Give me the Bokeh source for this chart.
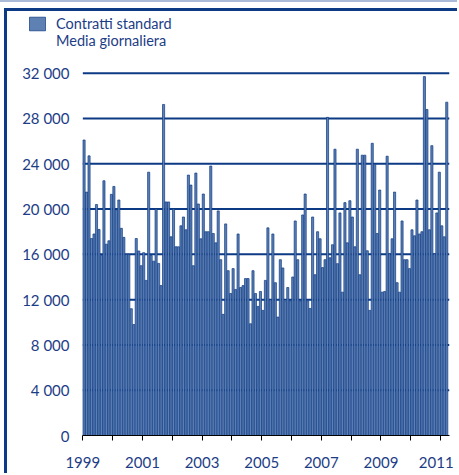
from bokeh.plotting import figure
from bokeh.models import FixedTicker, Range1d, Legend, LegendItem
from bokeh.layouts import column
from bokeh.embed import file_html
from bokeh.resources import INLINE

# ---- data (Contratti standard, media giornaliera, monthly) ----
v1999 = [26100, 21500, 24700, 17400, 17800, 20400, 18200, 15900, 22500, 16900, 17200, 21300]
v2000 = [22000, 19900, 20800, 18300, 17500, 16000, 16000, 11200, 9800, 17400, 16300, 15000]
v2001 = [16150, 13700, 23260, 15900, 15400, 20000, 15200, 13240, 29240, 20630, 20630, 17550]
v2002 = [20000, 16670, 16670, 18520, 19300, 18170, 23000, 22120, 15000, 23180, 20450, 17375]
v2003 = [21330, 18000, 18000, 23800, 17840, 17020, 19840, 15530, 10700, 18690, 14560, 12540]
v2004 = [14740, 12900, 17800, 13070, 13240, 13860, 13860, 9870, 14560, 12540, 11400, 12720]
v2005 = [11050, 13700, 18340, 12000, 17800, 13500, 10460, 15530, 14800, 11840, 13070, 11900]
v2006 = [14000, 18950, 15530, 11900, 19480, 21330, 11900, 11220, 19300, 14200, 18000, 17375]
v2007 = [14830, 15530, 28100, 15700, 16850, 25290, 15180, 19660, 12660, 20570, 17020, 20740]
v2008 = [19300, 16670, 25290, 14200, 24760, 24760, 16320, 11050, 25810, 23970, 17840, 21680]
v2009 = [12660, 12720, 24670, 16060, 17375, 21500, 13500, 12660, 18950, 15530, 15530, 14740]
v2010 = [18170, 17640, 20800, 17800, 18000, 31700, 28800, 18170, 25600, 16060, 19660, 23260]
v2011 = [18520, 17550, 29440]

year_labels = ["1999", "", "2001", "", "2003", "", "2005", "", "2007", "", "2009", "",
               "2011\u00a0"]
y_ticks = [0, 4000, 8000, 12000, 16000, 20000, 24000, 28000, 32000]
y_tick_labels = ["0", "4 000", "8 000", "12 000", "16 000", "20 000", "24 000", "28 000", "32 000"]
legend_lines = ["Contratti standard", "Media giornaliera"]

values = (v1999 + v2000 + v2001 + v2002 + v2003 + v2004 + v2005 + v2006
          + v2007 + v2008 + v2009 + v2010 + v2011)
months = list(range(len(values)))
year_ticks = [12 * k - 0.5 for k in range(len(year_labels))]

NAVY = "#0c3a84"
TEXT = "#1c3d86"
FILL = "#5f80b3"
LIGHT = "#a9bbd8"
FONT = "Lato"

X0, X1 = -0.5, 147.1
p = figure(width=450, height=462, output_backend="svg", toolbar_location=None,
           x_range=Range1d(-26.8, X1), y_range=Range1d(0, 37451),
           min_border_left=10, min_border_right=8, min_border_top=0, min_border_bottom=36)
p.outline_line_color = None
p.xgrid.grid_line_color = None
p.ygrid.grid_line_color = None

# horizontal grid lines, limited to the data area
grid_y = y_ticks[1:]
p.segment(x0=[X0] * len(grid_y), x1=[X1] * len(grid_y), y0=grid_y, y1=grid_y,
          line_color=NAVY, line_width=2, level="underlay")

bars = p.vbar(x=months, top=values, width=0.85, fill_color=FILL,
              line_color=NAVY, line_width=0.7)
dummy = p.vbar(x=[0], top=[0], width=0.1, fill_alpha=0, line_alpha=0)

xa = p.xaxis[0]
xa.bounds = (X0, X1)
xa.ticker = FixedTicker(ticks=year_ticks)
xa.major_label_overrides = {t: l for t, l in zip(year_ticks, year_labels)}
xa.axis_line_color = "black"
xa.axis_line_width = 1
xa.major_tick_line_color = "black"
xa.major_tick_out = 5
xa.major_tick_in = 0
xa.minor_tick_line_color = None
xa.major_label_standoff = 12
xa.major_label_text_font = FONT
xa.major_label_text_font_size = "15px"
xa.major_label_text_color = TEXT

ya = p.yaxis[0]
ya.ticker = FixedTicker(ticks=y_ticks)
ya.major_label_overrides = {t: l for t, l in zip(y_ticks, y_tick_labels)}
ya.axis_line_color = None
ya.major_tick_line_color = None
ya.major_tick_out = 0
ya.major_tick_in = 0
ya.minor_tick_line_color = None
ya.major_label_standoff = -52
ya.major_label_text_font = FONT
ya.major_label_text_font_size = "15px"
ya.major_label_text_color = TEXT

legend = Legend(items=[LegendItem(label=legend_lines[0], renderers=[bars]),
                       LegendItem(label=legend_lines[1], renderers=[dummy])],
                location=(10, 386), orientation="vertical")
legend.background_fill_alpha = 0
legend.border_line_color = None
legend.padding = 0
legend.spacing = 0
legend.margin = 0
legend.glyph_width = 20
legend.glyph_height = 17
legend.label_height = 17
legend.label_standoff = 9
legend.label_text_font = FONT
legend.label_text_font_size = "14.5px"
legend.label_text_color = TEXT
p.add_layout(legend, "center")

inner = column(p, spacing=0, margin=(6, 0, 0, 4),
               styles={"border-left": f"3px solid {NAVY}",
                       "border-top": f"3px solid {NAVY}"})
layout = column(inner, spacing=0, margin=0,
                styles={"border-top": f"2px solid {LIGHT}"})

open("out.html", "w").write(file_html(layout, INLINE))
